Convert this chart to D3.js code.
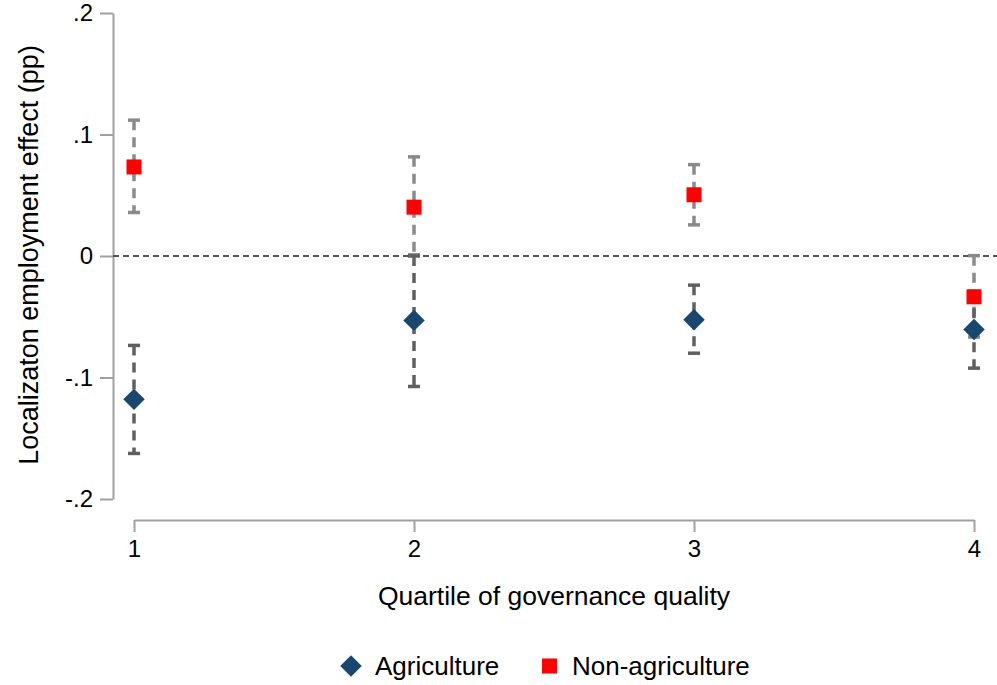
<!DOCTYPE html>
<html><head><meta charset="utf-8">
<script src="https://cdn.jsdelivr.net/npm/d3@7"></script>
<style>body{margin:0;background:#fff}svg{display:block}text{font-family:"Liberation Sans",Arial,Helvetica,sans-serif;fill:#000}</style>
</head><body><svg id="c" width="997" height="685"></svg>
<script>
const quartiles = [1, 2, 3, 4];
const agriEst   = [-0.118, -0.053, -0.0525, -0.0605];
const agriLo    = [-0.1625, -0.1074, -0.080, -0.0923];
const agriHi    = [-0.0736, 0.000, -0.024, -0.029];
const nonEst    = [0.0733, 0.0402, 0.0504, -0.0336];
const nonLo     = [0.0358, 0.001, 0.0256, -0.0667];
const nonHi     = [0.1118, 0.0816, 0.0752, 0.0003];
const yTicks    = [-0.2, -0.1, 0, 0.1, 0.2];
const yTickLabels = ["-.2", "-.1", "0", ".1", ".2"];
const seriesNames = ["Agriculture", "Non-agriculture"];

const FS = 26, TFS = 24;
const svg = d3.select("#c");
const x = d3.scaleLinear().domain([1, 4]).range([134, 974]);
const y = d3.scaleLinear().domain([-0.2, 0.2]).range([499, 13]);
const axisCol = "#a0a0a0";

// y axis
const yAx = svg.append("g").attr("transform", "translate(113,0)")
  .call(d3.axisLeft(y).tickValues(yTicks).tickSize(13).tickSizeOuter(0)
    .tickFormat((d, i) => yTickLabels[i]).tickPadding(7));
yAx.select(".domain").attr("stroke", axisCol).attr("stroke-width", 2);
yAx.selectAll(".tick line").attr("stroke", axisCol).attr("stroke-width", 2);
yAx.selectAll(".tick text").attr("font-size", TFS).attr("fill", "#000");

// x axis
const xAx = svg.append("g").attr("transform", "translate(0,520)")
  .call(d3.axisBottom(x).tickValues(quartiles).tickSize(12).tickSizeOuter(0)
    .tickFormat(d3.format("d")).tickPadding(8));
xAx.select(".domain").attr("stroke", axisCol).attr("stroke-width", 2);
xAx.selectAll(".tick line").attr("stroke", axisCol).attr("stroke-width", 2);
xAx.selectAll(".tick text").attr("font-size", TFS).attr("fill", "#000");

// zero line
svg.append("line").attr("x1", 113).attr("x2", 997).attr("y1", y(0)).attr("y2", y(0))
  .attr("stroke", "#555").attr("stroke-width", 2).attr("stroke-dasharray", "6,4");

// axis titles
svg.append("text").attr("x", 554).attr("y", 605).attr("text-anchor", "middle")
  .attr("font-size", 26.5).text("Quartile of governance quality");
svg.append("text").attr("transform", "translate(29,255) rotate(-90)").attr("text-anchor", "middle")
  .attr("dy", "0.35em").attr("font-size", 27).text("Localizaton employment effect (pp)");

function drawCI(lo, hi, col) {
  const g = svg.append("g");
  quartiles.forEach((q, i) => {
    g.append("line").attr("x1", x(q)).attr("x2", x(q)).attr("y1", y(hi[i])).attr("y2", y(lo[i]))
      .attr("stroke", col).attr("stroke-width", 3.5).attr("stroke-dasharray", "10,7");
    [lo[i], hi[i]].forEach(v => g.append("line").attr("x1", x(q) - 6).attr("x2", x(q) + 6)
      .attr("y1", y(v)).attr("y2", y(v)).attr("stroke", col).attr("stroke-width", 3.5));
  });
}
drawCI(nonLo, nonHi, "#8a8a8a");
drawCI(agriLo, agriHi, "#606060");

const diamond = d3.symbol().type(d3.symbolSquare).size(230);
svg.append("g").selectAll("path").data(agriEst).join("path")
  .attr("d", diamond)
  .attr("transform", (d, i) => `translate(${x(quartiles[i])},${y(d)}) rotate(45)`)
  .attr("fill", "#1a476f");
svg.append("g").selectAll("rect").data(nonEst).join("rect")
  .attr("x", (d, i) => x(quartiles[i]) - 7.5).attr("y", d => y(d) - 7.5)
  .attr("width", 15).attr("height", 15).attr("fill", "#ff0000");

// legend
const lg = svg.append("g");
lg.append("path").attr("d", diamond).attr("transform", "translate(351,666) rotate(45)").attr("fill", "#1a476f");
lg.append("text").attr("x", 375).attr("y", 666).attr("dy", "0.35em").attr("font-size", FS).text(seriesNames[0]);
lg.append("rect").attr("x", 542).attr("y", 658.5).attr("width", 15).attr("height", 15).attr("fill", "#ff0000");
lg.append("text").attr("x", 572).attr("y", 666).attr("dy", "0.35em").attr("font-size", FS).text(seriesNames[1]);
</script></body></html>
